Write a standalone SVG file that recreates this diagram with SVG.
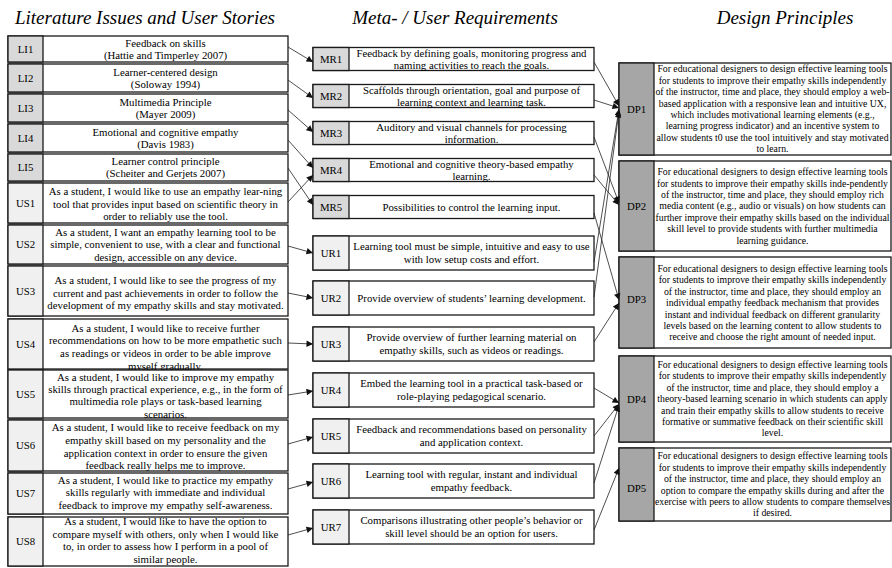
<svg xmlns="http://www.w3.org/2000/svg" width="892" height="568" viewBox="0 0 892 568">
<style>
text{font-family:"Liberation Serif","Times New Roman",serif;fill:#000;text-anchor:middle}
.t{font-size:10.8px}
.d{font-size:9.75px}
.title{font-size:19px;font-style:italic}
.box{fill:#fff;stroke:#1a1a1a;stroke-width:1.3}
.g1{fill:#d9d9d9;stroke:#1a1a1a;stroke-width:1.3}
.g2{fill:#f0f0f0;stroke:#1a1a1a;stroke-width:1.3}
.g3{fill:#a6a6a6;stroke:#1a1a1a;stroke-width:1.3}
.c{stroke:#222;stroke-width:0.8;fill:none;marker-end:url(#ah)}
</style>
<defs>
<marker id="ah" viewBox="0 0 10 10" refX="10" refY="5" markerWidth="7.5" markerHeight="6.5" markerUnits="userSpaceOnUse" orient="auto"><path d="M0,0 L10,5 L0,10 z" fill="#111"/></marker>
</defs>
<g id="titles">
<text class="title" x="145" y="24">Literature Issues and User Stories</text>
<text class="title" x="455" y="24">Meta- / User Requirements</text>
<text class="title" x="785" y="24">Design Principles</text>
</g>
<g id="LI1"><rect class="box" x="8" y="36" width="280" height="26"/><rect class="g1" x="8" y="36" width="35" height="26"/><text class="t" x="25.5" y="52.7">LI1</text><text class="t"><tspan x="165.5" y="46.7">Feedback on skills</tspan><tspan x="165.5" y="58.7">(Hattie and Timperley 2007)</tspan></text></g>
<g id="LI2"><rect class="box" x="8" y="64" width="280" height="28"/><rect class="g1" x="8" y="64" width="35" height="28"/><text class="t" x="25.5" y="81.7">LI2</text><text class="t"><tspan x="165.5" y="75.7">Learner-centered design</tspan><tspan x="165.5" y="87.7">(Soloway 1994)</tspan></text></g>
<g id="LI3"><rect class="box" x="8" y="94" width="280" height="28"/><rect class="g1" x="8" y="94" width="35" height="28"/><text class="t" x="25.5" y="111.7">LI3</text><text class="t"><tspan x="165.5" y="105.7">Multimedia Principle</tspan><tspan x="165.5" y="117.7">(Mayer 2009)</tspan></text></g>
<g id="LI4"><rect class="box" x="8" y="124" width="280" height="28"/><rect class="g1" x="8" y="124" width="35" height="28"/><text class="t" x="25.5" y="141.7">LI4</text><text class="t"><tspan x="165.5" y="135.7">Emotional and cognitive empathy</tspan><tspan x="165.5" y="147.7">(Davis 1983)</tspan></text></g>
<g id="LI5"><rect class="box" x="8" y="154" width="280" height="27"/><rect class="g1" x="8" y="154" width="35" height="27"/><text class="t" x="25.5" y="171.2">LI5</text><text class="t"><tspan x="165.5" y="165.2">Learner control principle</tspan><tspan x="165.5" y="177.2">(Scheiter and Gerjets 2007)</tspan></text></g>
<g id="US1"><rect class="box" x="8" y="183" width="280" height="40"/><rect class="g2" x="8" y="183" width="35" height="40"/><text class="t" x="25.5" y="206.7">US1</text><text class="t"><tspan x="165.5" y="195.2">As a student, I would like to use an empathy lear-ning</tspan><tspan x="165.5" y="207.7">tool that provides input based on scientific theory in</tspan><tspan x="165.5" y="220.2">order to reliably use the tool.</tspan></text></g>
<g id="US2"><rect class="box" x="8" y="225" width="280" height="39"/><rect class="g2" x="8" y="225" width="35" height="39"/><text class="t" x="25.5" y="248.2">US2</text><text class="t"><tspan x="165.5" y="235.7">As a student, I want an empathy learning tool to be</tspan><tspan x="165.5" y="248.2">simple, convenient to use, with a clear and functional</tspan><tspan x="165.5" y="260.7">design, accessible on any device.</tspan></text></g>
<g id="US3"><rect class="box" x="8" y="266" width="280" height="50"/><rect class="g2" x="8" y="266" width="35" height="50"/><text class="t" x="25.5" y="294.7">US3</text><text class="t"><tspan x="165.5" y="284.2">As a student, I would like to see the progress of my</tspan><tspan x="165.5" y="296.7">current and past achievements in order to follow the</tspan><tspan x="165.5" y="309.2">development of my empathy skills and stay motivated.</tspan></text></g>
<g id="US4"><rect class="box" x="8" y="319" width="280" height="50"/><rect class="g2" x="8" y="319" width="35" height="50"/><text class="t" x="25.5" y="347.7">US4</text><text class="t"><tspan x="165.5" y="331.7">As a student, I would like to receive further</tspan><tspan x="165.5" y="344.4">recommendations on how to be more empathetic such</tspan><tspan x="165.5" y="357">as readings or videos in order to be able improve</tspan><tspan x="165.5" y="369.7">myself gradually.</tspan></text></g>
<g id="US5"><rect class="box" x="8" y="370" width="280" height="48"/><rect class="g2" x="8" y="370" width="35" height="48"/><text class="t" x="25.5" y="397.7">US5</text><text class="t"><tspan x="165.5" y="380.7">As a student, I would like to improve my empathy</tspan><tspan x="165.5" y="393">skills through practical experience, e.g., in the form of</tspan><tspan x="165.5" y="405.4">multimedia role plays or task-based learning</tspan><tspan x="165.5" y="417.7">scenarios.</tspan></text></g>
<g id="US6"><rect class="box" x="8" y="420" width="280" height="51"/><rect class="g2" x="8" y="420" width="35" height="51"/><text class="t" x="25.5" y="449.2">US6</text><text class="t"><tspan x="165.5" y="431.2">As a student, I would like to receive feedback on my</tspan><tspan x="165.5" y="443.9">empathy skill based on my personality and the</tspan><tspan x="165.5" y="456.5">application context in order to ensure the given</tspan><tspan x="165.5" y="469.2">feedback really helps me to improve.</tspan></text></g>
<g id="US7"><rect class="box" x="8" y="473" width="280" height="41"/><rect class="g2" x="8" y="473" width="35" height="41"/><text class="t" x="25.5" y="497.2">US7</text><text class="t"><tspan x="165.5" y="483.7">As a student, I would like to practice my empathy</tspan><tspan x="165.5" y="496.2">skills regularly with immediate and individual</tspan><tspan x="165.5" y="508.7">feedback to improve my empathy self-awareness.</tspan></text></g>
<g id="US8"><rect class="box" x="8" y="517" width="280" height="49"/><rect class="g2" x="8" y="517" width="35" height="49"/><text class="t" x="25.5" y="545.2">US8</text><text class="t"><tspan x="165.5" y="525.2">As a student, I would like to have the option to</tspan><tspan x="165.5" y="537.7">compare myself with others, only when I would like</tspan><tspan x="165.5" y="550.2">to, in order to assess how I perform in a pool of</tspan><tspan x="165.5" y="562.7">similar people.</tspan></text></g>
<g id="MR1"><rect class="box" x="313" y="47.5" width="281" height="23"/><rect class="g1" x="313" y="47.5" width="36" height="23"/><text class="t" x="331" y="62.7">MR1</text><text class="t"><tspan x="471.5" y="56.7">Feedback by defining goals, monitoring progress and</tspan><tspan x="471.5" y="68.7">naming activities to reach the goals.</tspan></text></g>
<g id="MR2"><rect class="box" x="313" y="84.5" width="281" height="23"/><rect class="g1" x="313" y="84.5" width="36" height="23"/><text class="t" x="331" y="99.7">MR2</text><text class="t"><tspan x="471.5" y="93.7">Scaffolds through orientation, goal and purpose of</tspan><tspan x="471.5" y="105.7">learning context and learning task.</tspan></text></g>
<g id="MR3"><rect class="box" x="313" y="121.5" width="281" height="23"/><rect class="g1" x="313" y="121.5" width="36" height="23"/><text class="t" x="331" y="136.7">MR3</text><text class="t"><tspan x="471.5" y="130.7">Auditory and visual channels for processing</tspan><tspan x="471.5" y="142.7">information.</tspan></text></g>
<g id="MR4"><rect class="box" x="313" y="158.5" width="281" height="23"/><rect class="g1" x="313" y="158.5" width="36" height="23"/><text class="t" x="331" y="173.7">MR4</text><text class="t"><tspan x="471.5" y="167.7">Emotional and cognitive theory-based empathy</tspan><tspan x="471.5" y="179.7">learning.</tspan></text></g>
<g id="MR5"><rect class="box" x="313" y="195.5" width="281" height="23"/><rect class="g1" x="313" y="195.5" width="36" height="23"/><text class="t" x="331" y="210.7">MR5</text><text class="t" x="471.5" y="210.7">Possibilities to control the learning input.</text></g>
<g id="UR1"><rect class="box" x="313" y="236" width="281" height="34"/><rect class="g2" x="313" y="236" width="36" height="34"/><text class="t" x="331" y="256.7">UR1</text><text class="t"><tspan x="471.5" y="250.2">Learning tool must be simple, intuitive and easy to use</tspan><tspan x="471.5" y="263.2">with low setup costs and effort.</tspan></text></g>
<g id="UR2"><rect class="box" x="313" y="281" width="281" height="34"/><rect class="g2" x="313" y="281" width="36" height="34"/><text class="t" x="331" y="301.7">UR2</text><text class="t" x="471.5" y="301.7">Provide overview of students’ learning development.</text></g>
<g id="UR3"><rect class="box" x="313" y="327" width="281" height="34"/><rect class="g2" x="313" y="327" width="36" height="34"/><text class="t" x="331" y="347.7">UR3</text><text class="t"><tspan x="471.5" y="341.2">Provide overview of further learning material on</tspan><tspan x="471.5" y="354.2">empathy skills, such as videos or readings.</tspan></text></g>
<g id="UR4"><rect class="box" x="313" y="373" width="281" height="34"/><rect class="g2" x="313" y="373" width="36" height="34"/><text class="t" x="331" y="393.7">UR4</text><text class="t"><tspan x="471.5" y="387.2">Embed the learning tool in a practical task-based or</tspan><tspan x="471.5" y="400.2">role-playing pedagogical scenario.</tspan></text></g>
<g id="UR5"><rect class="box" x="313" y="419" width="281" height="34"/><rect class="g2" x="313" y="419" width="36" height="34"/><text class="t" x="331" y="439.7">UR5</text><text class="t"><tspan x="471.5" y="433.2">Feedback and recommendations based on personality</tspan><tspan x="471.5" y="446.2">and application context.</tspan></text></g>
<g id="UR6"><rect class="box" x="313" y="464" width="281" height="34"/><rect class="g2" x="313" y="464" width="36" height="34"/><text class="t" x="331" y="484.7">UR6</text><text class="t"><tspan x="471.5" y="478.2">Learning tool with regular, instant and individual</tspan><tspan x="471.5" y="491.2">empathy feedback.</tspan></text></g>
<g id="UR7"><rect class="box" x="313" y="510" width="281" height="34"/><rect class="g2" x="313" y="510" width="36" height="34"/><text class="t" x="331" y="530.7">UR7</text><text class="t"><tspan x="471.5" y="524.2">Comparisons illustrating other people’s behavior or</tspan><tspan x="471.5" y="537.2">skill level should be an option for users.</tspan></text></g>
<g id="DP1"><rect class="box" x="619" y="63" width="272" height="92"/><rect class="g3" x="619" y="63" width="35" height="92"/><text class="t" x="636.5" y="112.7">DP1</text><text class="d"><tspan x="772.5" y="72.3">For educational designers to design effective learning tools</tspan><tspan x="772.5" y="83.7">for students to improve their empathy skills independently</tspan><tspan x="772.5" y="95.1">of the instructor, time and place, they should employ a web-</tspan><tspan x="772.5" y="106.5">based application with a responsive lean and intuitive UX,</tspan><tspan x="772.5" y="117.9">which includes motivational learning elements (e.g.,</tspan><tspan x="772.5" y="129.3">learning progress indicator) and an incentive system to</tspan><tspan x="772.5" y="140.7">allow students t0 use the tool intuitively and stay motivated</tspan><tspan x="772.5" y="152.1">to learn.</tspan></text></g>
<g id="DP2"><rect class="box" x="619" y="161" width="272" height="90"/><rect class="g3" x="619" y="161" width="35" height="90"/><text class="t" x="636.5" y="209.7">DP2</text><text class="d"><tspan x="772.5" y="175.1">For educational designers to design effective learning tools</tspan><tspan x="772.5" y="186.5">for students to improve their empathy skills inde-pendently</tspan><tspan x="772.5" y="197.9">of the instructor, time and place, they should employ rich</tspan><tspan x="772.5" y="209.3">media content (e.g., audio or visuals) on how students can</tspan><tspan x="772.5" y="220.7">further improve their empathy skills based on the individual</tspan><tspan x="772.5" y="232.1">skill level to provide students with further multimedia</tspan><tspan x="772.5" y="243.5">learning guidance.</tspan></text></g>
<g id="DP3"><rect class="box" x="619" y="257" width="272" height="91"/><rect class="g3" x="619" y="257" width="35" height="91"/><text class="t" x="636.5" y="303">DP3</text><text class="d"><tspan x="772.5" y="272">For educational designers to design effective learning tools</tspan><tspan x="772.5" y="283.4">for students to improve their empathy skills independently</tspan><tspan x="772.5" y="294.8">of the instructor, time and place, they should employ an</tspan><tspan x="772.5" y="306.2">individual empathy feedback mechanism that provides</tspan><tspan x="772.5" y="317.6">instant and individual feedback on different granularity</tspan><tspan x="772.5" y="329">levels based on the learning content to allow students to</tspan><tspan x="772.5" y="340.4">receive and choose the right amount of needed input.</tspan></text></g>
<g id="DP4"><rect class="box" x="619" y="356" width="272" height="86"/><rect class="g3" x="619" y="356" width="35" height="86"/><text class="t" x="636.5" y="402.7">DP4</text><text class="d"><tspan x="772.5" y="367.9">For educational designers to design effective learning tools</tspan><tspan x="772.5" y="379.3">for students to improve their empathy skills independently</tspan><tspan x="772.5" y="390.7">of the instructor, time and place, they should employ a</tspan><tspan x="772.5" y="402.1">theory-based learning scenario in which students can apply</tspan><tspan x="772.5" y="413.5">and train their empathy skills to allow students to receive</tspan><tspan x="772.5" y="424.9">formative or summative feedback on their scientific skill</tspan><tspan x="772.5" y="436.3">level.</tspan></text></g>
<g id="DP5"><rect class="box" x="619" y="448" width="272" height="73"/><rect class="g3" x="619" y="448" width="35" height="73"/><text class="t" x="636.5" y="492">DP5</text><text class="d"><tspan x="772.5" y="459.3">For educational designers to design effective learning tools</tspan><tspan x="772.5" y="470.7">for students to improve their empathy skills independently</tspan><tspan x="772.5" y="482.1">of the instructor, time and place, they should employ an</tspan><tspan x="772.5" y="493.5">option to compare the empathy skills during and after the</tspan><tspan x="772.5" y="504.9">exercise with peers to allow students to compare themselves</tspan><tspan x="772.5" y="516.3">if desired.</tspan></text></g>
<g id="connectors">
<path class="c" d="M288,47 L313,62"/>
<path class="c" d="M288,80 L313,98"/>
<path class="c" d="M288,110 L313,132"/>
<path class="c" d="M288,140 L313,168"/>
<path class="c" d="M288,168 L313,205"/>
<path class="c" d="M288,202 L313,175"/>
<path class="c" d="M288,246 L313,253"/>
<path class="c" d="M288,293 L313,298"/>
<path class="c" d="M288,343 L313,344"/>
<path class="c" d="M288,395 L313,391"/>
<path class="c" d="M288,444 L313,437"/>
<path class="c" d="M288,489 L313,482"/>
<path class="c" d="M288,535 L313,528"/>
<path class="c" d="M594,62 L619,106"/>
<path class="c" d="M594,100 L619,108"/>
<path class="c" d="M594,137 L619,203"/>
<path class="c" d="M594,175 L619,205"/>
<path class="c" d="M594,213 L619,300"/>
<path class="c" d="M594,262 L619,109"/>
<path class="c" d="M594,297 L619,111"/>
<path class="c" d="M594,342 L619,303"/>
<path class="c" d="M594,388 L619,403"/>
<path class="c" d="M594,436 L619,404"/>
<path class="c" d="M594,483 L619,405"/>
<path class="c" d="M594,530 L619,468"/>
</g>
</svg>
